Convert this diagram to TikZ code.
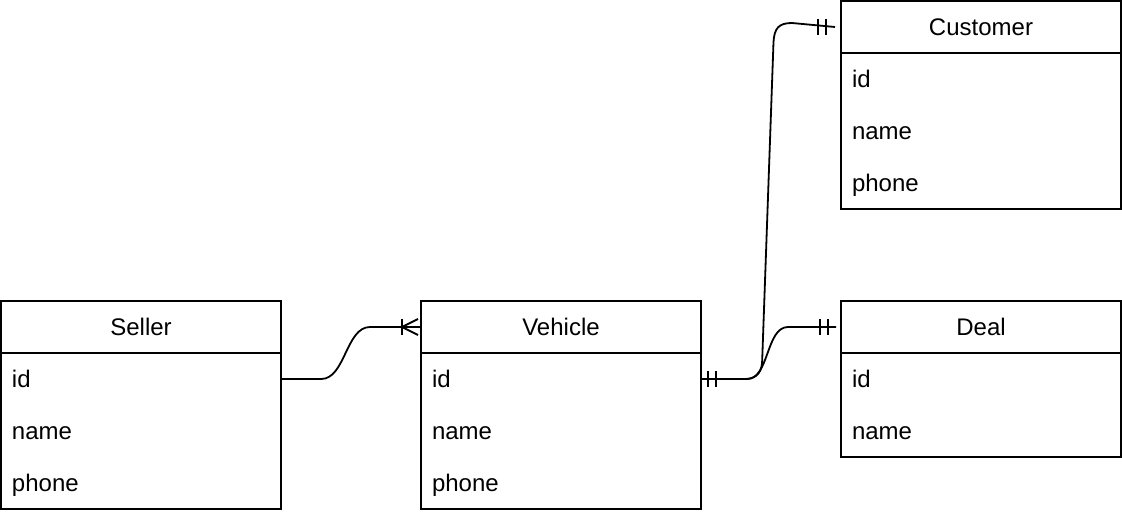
\documentclass[tikz,border=0pt]{standalone}
\usepackage{fontspec}
\setmainfont{Liberation Sans}
\usetikzlibrary{calc}
\tikzset{
  txt/.style={font=\fontsize{24}{28}\selectfont, text height=18pt, text depth=1pt},
  hdr/.style={draw, line width=2pt, minimum width=280pt, minimum height=52pt, inner sep=0pt, txt},
  bodybox/.style={draw, line width=2pt, minimum width=280pt, inner sep=0pt},
  field/.style={minimum width=280pt, minimum height=52pt, text width=258pt, inner xsep=11pt, inner ysep=0pt, align=left, txt},
  rel/.style={line width=1.8pt},
}
\begin{document}
\begin{tikzpicture}[x=1pt,y=-1pt]
\useasboundingbox (0,0) rectangle (1122,516);
% Customer
\node[hdr] (ch) at (981,27) {Customer};
\node[bodybox, minimum height=156pt] (cb) at (981,131) {};
\node[field] (cid) at (981,79) {id};
\node[field] (cname) at (981,131) {name};
\node[field] (cphone) at (981,183) {phone};
% Seller
\node[hdr] (sh) at (141,327) {Seller};
\node[bodybox, minimum height=156pt] (sb) at (141,431) {};
\node[field] (sid) at (141,379) {id};
\node[field] (sname) at (141,431) {name};
\node[field] (sphone) at (141,483) {phone};
% Vehicle
\node[hdr] (vh) at (561,327) {Vehicle};
\node[bodybox, minimum height=156pt] (vb) at (561,431) {};
\node[field] (vid) at (561,379) {id};
\node[field] (vname) at (561,431) {name};
\node[field] (vphone) at (561,483) {phone};
% Deal
\node[hdr] (dh) at (981,327) {Deal};
\node[bodybox, minimum height=104pt] (db) at (981,405) {};
\node[field] (did) at (981,379) {id};
\node[field] (dname) at (981,431) {name};

% Seller -> Vehicle (one to many)
\draw[rel] (sid.east) -- ++(40,0) .. controls +(24,0) and +(-24,0) .. ([xshift=-50pt]vh.west) -- (vh.west);
\draw[rel] ([xshift=-18pt]vh.west) -- ([xshift=-2pt,yshift=8pt]vh.west);
\draw[rel] ([xshift=-18pt]vh.west) -- ([xshift=-2pt,yshift=-8pt]vh.west);
\draw[rel] ([xshift=-18pt,yshift=8pt]vh.west) -- ([xshift=-18pt,yshift=-8pt]vh.west);

% Vehicle -> Deal (one to one)
\draw[rel] (vid.east) -- ++(46,0) .. controls +(22,0) and +(-22,0) .. ([xshift=-52pt]dh.west) -- ([xshift=-4pt]dh.west);
\foreach \s in {7,15} \draw[rel] ([xshift=\s pt,yshift=8pt]vid.east) -- ([xshift=\s pt,yshift=-8pt]vid.east);
\foreach \s in {-20,-12} \draw[rel] ([xshift=\s pt,yshift=8pt]dh.west) -- ([xshift=\s pt,yshift=-8pt]dh.west);

% Vehicle -> Customer (one to one)
\draw[rel] (vid.east) -- ++(44,0) .. controls +(13,0) and +(0,10) .. ++(17,-19) -- (773.5,42) .. controls (774.3,28) and (779,23) .. (792,23) -- ([xshift=-5pt]ch.west);
\foreach \s in {-22,-14} \draw[rel] ([xshift=\s pt,yshift=8pt]ch.west) -- ([xshift=\s pt,yshift=-8pt]ch.west);
\end{tikzpicture}
\end{document}
